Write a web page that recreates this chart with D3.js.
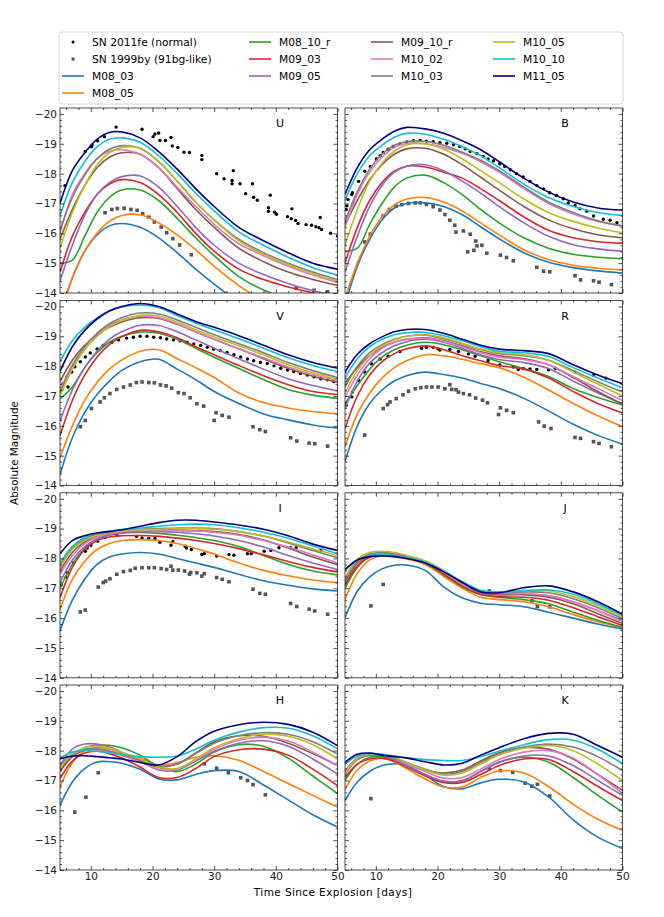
<!DOCTYPE html>
<html>
<head>
<meta charset="utf-8">
<script src="https://cdn.jsdelivr.net/npm/d3@7"></script>
<style>
body { margin: 0; background: #fff; }
text { font-family: "DejaVu Sans", sans-serif; }
</style>
</head>
<body>
<div id="chart"></div>
<script>
// model epochs (days since explosion)
const T = [5, 7, 9, 11, 13, 15, 18, 21, 24, 27, 30, 34, 38, 42, 46, 50];

const models = ["M08_03", "M08_05", "M08_10_r", "M09_03", "M09_05", "M09_10_r",
                "M10_02", "M10_03", "M10_05", "M10_10", "M11_05"];
const modelColors = ["#1f77b4", "#ff7f0e", "#2ca02c", "#d62728", "#9467bd", "#8c564b",
                     "#e377c2", "#7f7f7f", "#bcbd22", "#17becf", "#000080"];

const bands = ["U", "B", "V", "R", "I", "J", "H", "K"];

const xTicks = [10, 20, 30, 40, 50];
const yTicks = [-20, -19, -18, -17, -16, -15, -14];

// model light curves, one row per model (same order as models)
const modelU = [
  [-13.2, -14.5, -15.4, -15.95, -16.25, -16.33, -16.2, -15.85, -15.35, -14.8, -14.3, -13.7, -13.3, -13.0, -12.8, -12.6],
  [-13.3, -14.5, -15.4, -16.0, -16.4, -16.6, -16.62, -16.35, -15.95, -15.45, -14.9, -14.25, -13.75, -13.4, -13.1, -12.9],
  [-15.0, -15.1, -15.9, -16.7, -17.2, -17.45, -17.45, -17.1, -16.5, -15.85, -15.25, -14.55, -14.1, -13.8, -13.6, -13.4],
  [-14.7, -15.9, -16.7, -17.3, -17.65, -17.8, -17.7, -17.3, -16.7, -16.0, -15.4, -14.8, -14.45, -14.2, -14.0, -13.8],
  [-14.4, -15.6, -16.6, -17.3, -17.7, -17.9, -17.92, -17.55, -16.9, -16.2, -15.6, -15.0, -14.62, -14.32, -14.08, -13.88],
  [-15.8, -16.8, -17.6, -18.2, -18.55, -18.7, -18.65, -18.2, -17.5, -16.8, -16.2, -15.5, -15.05, -14.7, -14.45, -14.25],
  [-16.0, -17.3, -18.0, -18.5, -18.75, -18.8, -18.65, -18.2, -17.55, -16.9, -16.3, -15.65, -15.25, -14.9, -14.6, -14.35],
  [-16.1, -17.2, -17.95, -18.5, -18.82, -18.94, -18.85, -18.4, -17.75, -17.05, -16.45, -15.8, -15.35, -15.0, -14.7, -14.45],
  [-15.5, -16.7, -17.6, -18.3, -18.7, -18.88, -18.85, -18.42, -17.75, -17.05, -16.45, -15.75, -15.3, -14.95, -14.65, -14.4],
  [-16.6, -17.7, -18.4, -18.9, -19.15, -19.2, -19.05, -18.6, -18.0, -17.35, -16.75, -16.05, -15.6, -15.2, -14.85, -14.6],
  [-17.0, -18.1, -18.7, -19.15, -19.38, -19.4, -19.2, -18.74, -18.15, -17.5, -16.9, -16.2, -15.75, -15.35, -15.0, -14.8]
];
const modelB = [
  [-13.6, -14.9, -15.8, -16.45, -16.85, -17.0, -17.02, -16.9, -16.62, -16.22, -15.82, -15.35, -15.03, -14.85, -14.74, -14.67],
  [-13.8, -15.0, -15.9, -16.55, -16.95, -17.15, -17.2, -17.05, -16.75, -16.35, -15.95, -15.45, -15.12, -14.93, -14.83, -14.77],
  [-15.4, -15.5, -16.3, -17.0, -17.55, -17.85, -17.95, -17.7, -17.3, -16.8, -16.35, -15.85, -15.5, -15.3, -15.2, -15.15],
  [-15.0, -16.2, -17.1, -17.7, -18.08, -18.25, -18.22, -18.05, -17.85, -17.5, -17.1, -16.55, -16.1, -15.85, -15.72, -15.67],
  [-14.7, -15.9, -16.9, -17.6, -18.05, -18.25, -18.3, -18.1, -17.75, -17.35, -16.9, -16.35, -15.9, -15.62, -15.48, -15.4],
  [-16.3, -17.1, -17.8, -18.3, -18.65, -18.83, -18.85, -18.65, -18.3, -17.88, -17.45, -16.9, -16.45, -16.15, -15.95, -15.85],
  [-16.2, -17.3, -18.05, -18.55, -18.88, -19.02, -19.0, -18.88, -18.68, -18.4, -18.05, -17.5, -17.0, -16.65, -16.4, -16.25],
  [-16.4, -17.4, -18.15, -18.65, -18.95, -19.08, -19.08, -18.95, -18.72, -18.45, -18.1, -17.55, -17.05, -16.7, -16.42, -16.24],
  [-15.6, -16.8, -17.75, -18.35, -18.75, -18.97, -19.0, -18.82, -18.5, -18.1, -17.7, -17.15, -16.7, -16.4, -16.18, -16.02],
  [-17.1, -18.0, -18.6, -18.95, -19.22, -19.35, -19.32, -19.15, -18.9, -18.6, -18.2, -17.65, -17.2, -16.9, -16.7, -16.6],
  [-17.3, -18.2, -18.8, -19.15, -19.42, -19.55, -19.5, -19.35, -19.1, -18.8, -18.4, -17.85, -17.38, -17.05, -16.85, -16.78]
];
const modelV = [
  [-14.37, -15.6, -16.45, -17.05, -17.5, -17.85, -18.15, -18.23, -17.9, -17.55, -17.15, -16.75, -16.4, -16.2, -16.03, -15.93],
  [-14.93, -16.0, -16.85, -17.45, -17.9, -18.2, -18.5, -18.55, -18.25, -17.95, -17.62, -17.1, -16.78, -16.6, -16.48, -16.4],
  [-16.9, -17.3, -17.95, -18.45, -18.8, -19.0, -19.14, -19.1, -18.9, -18.6, -18.3, -17.92, -17.55, -17.22, -17.03, -16.92],
  [-15.67, -16.85, -17.7, -18.3, -18.72, -18.98, -19.2, -19.15, -18.95, -18.65, -18.38, -18.02, -17.68, -17.38, -17.15, -17.05],
  [-16.16, -17.2, -17.95, -18.5, -18.9, -19.15, -19.37, -19.36, -19.15, -18.88, -18.6, -18.25, -17.9, -17.58, -17.35, -17.17],
  [-17.49, -18.2, -18.7, -19.05, -19.3, -19.48, -19.62, -19.6, -19.4, -19.15, -18.9, -18.58, -18.25, -17.92, -17.66, -17.46],
  [-17.2, -18.05, -18.65, -19.08, -19.38, -19.55, -19.68, -19.62, -19.42, -19.15, -18.9, -18.58, -18.28, -17.97, -17.72, -17.52],
  [-17.1, -18.0, -18.65, -19.1, -19.42, -19.62, -19.78, -19.75, -19.55, -19.3, -19.05, -18.75, -18.45, -18.12, -17.85, -17.62],
  [-17.0, -17.9, -18.55, -19.0, -19.33, -19.53, -19.7, -19.68, -19.48, -19.22, -18.98, -18.68, -18.38, -18.05, -17.78, -17.57],
  [-18.16, -18.85, -19.3, -19.62, -19.85, -19.98, -20.05, -19.97, -19.7, -19.45, -19.22, -18.92, -18.6, -18.28, -18.02, -17.82],
  [-17.82, -18.65, -19.2, -19.58, -19.85, -20.0, -20.1, -20.0, -19.75, -19.5, -19.3, -19.02, -18.7, -18.38, -18.12, -17.93]
];
const modelR = [
  [-14.8, -16.0, -16.75, -17.2, -17.5, -17.68, -17.8, -17.72, -17.6, -17.42, -17.25, -16.92, -16.5, -16.05, -15.68, -15.39],
  [-15.3, -16.4, -17.1, -17.6, -17.95, -18.18, -18.38, -18.35, -18.23, -18.08, -17.95, -17.63, -17.2, -16.75, -16.34, -15.97],
  [-16.74, -17.35, -17.9, -18.3, -18.55, -18.7, -18.8, -18.72, -18.55, -18.35, -18.15, -17.92, -17.65, -17.25, -16.95, -16.7],
  [-15.91, -17.0, -17.7, -18.15, -18.42, -18.58, -18.68, -18.55, -18.35, -18.18, -18.02, -17.9, -17.6, -17.15, -16.75, -16.43],
  [-16.58, -17.5, -18.1, -18.45, -18.68, -18.82, -18.9, -18.8, -18.6, -18.38, -18.22, -18.12, -17.92, -17.5, -17.1, -16.74],
  [-17.43, -17.95, -18.35, -18.62, -18.8, -18.9, -18.95, -18.85, -18.68, -18.48, -18.35, -18.25, -18.05, -17.62, -17.15, -16.72],
  [-16.95, -17.7, -18.25, -18.6, -18.8, -18.9, -18.93, -18.83, -18.65, -18.45, -18.3, -18.22, -18.05, -17.65, -17.25, -16.85],
  [-17.3, -18.0, -18.45, -18.72, -18.9, -19.0, -19.04, -18.92, -18.75, -18.55, -18.42, -18.35, -18.2, -17.85, -17.48, -17.13],
  [-17.1, -17.85, -18.35, -18.68, -18.88, -19.0, -19.05, -18.95, -18.77, -18.57, -18.45, -18.38, -18.2, -17.8, -17.4, -17.0],
  [-17.6, -18.25, -18.65, -18.9, -19.05, -19.12, -19.13, -19.02, -18.85, -18.65, -18.5, -18.45, -18.32, -17.95, -17.6, -17.27],
  [-17.8, -18.4, -18.75, -18.98, -19.15, -19.23, -19.23, -19.1, -18.9, -18.7, -18.57, -18.52, -18.42, -18.05, -17.7, -17.41]
];
const modelI = [
  [-15.58, -16.6, -17.3, -17.8, -18.05, -18.15, -18.2, -18.15, -18.0, -17.85, -17.7, -17.47, -17.25, -17.1, -16.98, -16.91],
  [-16.3, -17.3, -17.9, -18.3, -18.5, -18.6, -18.63, -18.6, -18.5, -18.33, -18.15, -17.85, -17.6, -17.42, -17.28, -17.19],
  [-17.0, -17.8, -18.35, -18.65, -18.8, -18.86, -18.87, -18.84, -18.78, -18.7, -18.6, -18.4, -18.1, -17.8, -17.58, -17.45],
  [-16.69, -17.7, -18.3, -18.6, -18.72, -18.76, -18.77, -18.74, -18.68, -18.6, -18.5, -18.33, -18.12, -17.9, -17.7, -17.55],
  [-17.19, -17.95, -18.4, -18.65, -18.78, -18.85, -18.9, -18.9, -18.88, -18.83, -18.75, -18.6, -18.38, -18.1, -17.85, -17.63],
  [-17.58, -18.2, -18.55, -18.75, -18.85, -18.9, -18.93, -18.95, -18.95, -18.93, -18.9, -18.8, -18.62, -18.35, -18.05, -17.8],
  [-17.47, -18.1, -18.5, -18.72, -18.83, -18.9, -18.93, -18.93, -18.93, -18.92, -18.88, -18.78, -18.6, -18.38, -18.12, -17.85],
  [-17.75, -18.35, -18.65, -18.82, -18.9, -18.95, -18.98, -19.0, -19.02, -19.02, -19.0, -18.9, -18.75, -18.52, -18.27, -18.02],
  [-17.7, -18.3, -18.6, -18.78, -18.88, -18.92, -18.96, -18.98, -19.0, -19.0, -18.98, -18.9, -18.75, -18.55, -18.32, -18.1],
  [-17.85, -18.4, -18.7, -18.85, -18.92, -18.97, -19.02, -19.08, -19.13, -19.15, -19.13, -19.03, -18.88, -18.68, -18.42, -18.16],
  [-18.16, -18.6, -18.76, -18.85, -18.9, -18.96, -19.08, -19.2, -19.28, -19.28, -19.22, -19.12, -18.98, -18.76, -18.48, -18.27]
];
const modelJ = [
  [-16.02, -16.9, -17.38, -17.65, -17.77, -17.78, -17.6, -17.05, -16.68, -16.5, -16.45, -16.38, -16.2, -16.0, -15.8, -15.63],
  [-16.63, -17.5, -17.95, -18.08, -18.06, -17.98, -17.8, -17.4, -17.0, -16.7, -16.62, -16.55, -16.38, -16.12, -15.88, -15.68],
  [-17.0, -17.7, -18.05, -18.15, -18.12, -18.05, -17.85, -17.45, -17.05, -16.78, -16.7, -16.62, -16.48, -16.2, -15.93, -15.69],
  [-17.1, -17.75, -18.05, -18.12, -18.1, -18.02, -17.85, -17.48, -17.08, -16.8, -16.72, -16.7, -16.6, -16.35, -16.05, -15.75],
  [-17.2, -17.85, -18.12, -18.18, -18.15, -18.08, -17.9, -17.55, -17.15, -16.85, -16.78, -16.8, -16.75, -16.55, -16.25, -15.92],
  [-17.24, -17.85, -18.1, -18.15, -18.12, -18.05, -17.9, -17.55, -17.15, -16.85, -16.8, -16.78, -16.7, -16.48, -16.15, -15.82],
  [-17.3, -17.9, -18.12, -18.17, -18.14, -18.07, -17.9, -17.55, -17.15, -16.87, -16.82, -16.82, -16.76, -16.55, -16.25, -15.88],
  [-17.3, -17.92, -18.15, -18.2, -18.16, -18.08, -17.9, -17.57, -17.18, -16.9, -16.85, -16.88, -16.85, -16.65, -16.35, -15.98],
  [-17.35, -17.98, -18.2, -18.24, -18.2, -18.1, -17.92, -17.6, -17.2, -16.92, -16.88, -16.92, -16.92, -16.72, -16.42, -16.03],
  [-17.58, -17.95, -18.1, -18.14, -18.1, -18.03, -17.88, -17.58, -17.22, -16.93, -16.88, -16.92, -16.95, -16.8, -16.48, -16.08],
  [-17.63, -17.95, -18.06, -18.08, -18.06, -18.0, -17.85, -17.55, -17.2, -16.88, -16.85, -17.02, -17.08, -16.88, -16.55, -16.13]
];
const modelH = [
  [-16.17, -16.95, -17.4, -17.62, -17.63, -17.58, -17.38, -17.05, -17.02, -17.2, -17.33, -17.3, -16.85, -16.35, -15.85, -15.44],
  [-16.78, -17.6, -18.0, -18.11, -18.05, -17.92, -17.75, -17.52, -17.6, -17.78, -17.83, -17.68, -17.3, -16.9, -16.5, -16.11],
  [-17.3, -17.85, -18.1, -18.18, -18.18, -18.1, -17.85, -17.45, -17.3, -17.55, -17.95, -18.2, -18.15, -17.75, -17.15, -16.56],
  [-17.06, -17.65, -17.92, -17.98, -17.9, -17.75, -17.45, -17.1, -17.1, -17.4, -17.8, -18.03, -18.05, -17.85, -17.38, -16.83],
  [-17.5, -18.05, -18.22, -18.22, -18.12, -17.95, -17.68, -17.35, -17.35, -17.65, -17.98, -18.25, -18.33, -18.15, -17.72, -17.22],
  [-17.3, -17.8, -18.02, -18.05, -17.98, -17.85, -17.65, -17.45, -17.55, -17.92, -18.3, -18.5, -18.48, -18.25, -17.9, -17.5],
  [-17.45, -17.85, -18.05, -18.05, -17.97, -17.85, -17.62, -17.38, -17.38, -17.7, -18.05, -18.35, -18.45, -18.32, -17.95, -17.5],
  [-17.5, -17.9, -18.05, -18.05, -17.98, -17.88, -17.7, -17.48, -17.55, -17.9, -18.25, -18.5, -18.6, -18.55, -18.3, -17.89],
  [-17.4, -17.9, -18.1, -18.15, -18.08, -17.95, -17.72, -17.45, -17.4, -17.72, -18.1, -18.4, -18.55, -18.48, -18.2, -17.72],
  [-17.75, -17.95, -18.0, -17.98, -17.93, -17.87, -17.8, -17.78, -17.82, -18.05, -18.35, -18.62, -18.77, -18.75, -18.5, -18.06],
  [-17.72, -17.82, -17.83, -17.8, -17.76, -17.72, -17.6, -17.52, -17.8, -18.3, -18.65, -18.87, -18.95, -18.88, -18.62, -18.17]
];
const modelK = [
  [-16.33, -16.95, -17.3, -17.5, -17.56, -17.5, -17.18, -16.8, -16.72, -16.92, -17.04, -16.95, -16.45, -15.68, -15.1, -14.72],
  [-16.7, -17.35, -17.65, -17.75, -17.62, -17.4, -17.05, -16.78, -16.78, -17.1, -17.32, -17.25, -16.8, -16.2, -15.7, -15.33],
  [-17.0, -17.55, -17.78, -17.8, -17.7, -17.5, -17.2, -16.95, -16.98, -17.3, -17.62, -17.78, -17.62, -17.1, -16.5, -15.94],
  [-17.1, -17.55, -17.72, -17.75, -17.65, -17.45, -17.15, -16.93, -16.93, -17.2, -17.5, -17.72, -17.7, -17.3, -16.8, -16.33],
  [-17.3, -17.75, -17.88, -17.85, -17.7, -17.48, -17.2, -16.98, -17.0, -17.3, -17.6, -17.82, -17.82, -17.5, -17.0, -16.5],
  [-17.2, -17.7, -17.85, -17.85, -17.75, -17.58, -17.35, -17.25, -17.35, -17.65, -17.93, -18.1, -18.05, -17.72, -17.2, -16.67],
  [-17.2, -17.72, -17.88, -17.87, -17.75, -17.55, -17.3, -17.08, -17.1, -17.38, -17.7, -17.95, -18.0, -17.75, -17.2, -16.56],
  [-17.3, -17.75, -17.87, -17.85, -17.75, -17.6, -17.38, -17.22, -17.3, -17.6, -17.9, -18.12, -18.22, -18.12, -17.8, -17.33],
  [-17.25, -17.75, -17.88, -17.87, -17.77, -17.6, -17.35, -17.18, -17.25, -17.55, -17.85, -18.08, -18.17, -18.0, -17.55, -17.0],
  [-17.55, -17.82, -17.9, -17.88, -17.82, -17.76, -17.7, -17.67, -17.67, -17.8, -17.98, -18.2, -18.37, -18.35, -18.05, -17.56],
  [-17.61, -17.88, -17.92, -17.85, -17.8, -17.75, -17.63, -17.52, -17.58, -17.85, -18.1, -18.4, -18.58, -18.55, -18.17, -17.78]
];

// SN 2011fe photometry [day, mag]
const fe11U = [[5.8,-17.6],[9.1,-18.74],[10.1,-18.9],[10.2,-18.96],[11.1,-19.1],[12.2,-19.24],[14.1,-19.56],[18.3,-19.49],[20.1,-19.24],[20.4,-19.33],[21.0,-19.36],[21.2,-19.11],[22.1,-19.11],[23.0,-19.21],[23.2,-18.93],[24.1,-18.88],[25.1,-18.72],[26.0,-18.71],[28.0,-18.61],[28.0,-18.47],[30.4,-18.0],[31.6,-17.83],[33.1,-18.1],[32.9,-17.77],[32.9,-17.66],[34.2,-17.66],[35.1,-17.33],[36.2,-17.66],[36.4,-17.21],[37.0,-17.11],[39.1,-17.28],[38.8,-16.86],[38.8,-16.74],[39.8,-16.71],[40.1,-16.64],[42.6,-16.82],[41.9,-16.56],[42.5,-16.49],[43.2,-16.43],[43.6,-16.33],[44.9,-16.29],[45.8,-16.27],[46.5,-16.22],[47.2,-16.53],[47.0,-16.19],[47.4,-16.13],[48.9,-16.0],[50.0,-15.91]];
const fe11B = [[5.2,-16.8],[5.3,-16.92],[5.5,-17.13],[6.1,-17.3],[6.2,-17.36],[7.2,-17.74],[8.2,-18.08],[9.1,-18.24],[10.1,-18.49],[10.7,-18.6],[11.2,-18.71],[12.0,-18.82],[12.8,-18.91],[13.9,-19.0],[15.0,-19.06],[16.1,-19.1],[17.2,-19.11],[18.2,-19.09],[19.3,-19.07],[20.4,-19.04],[21.5,-19.02],[22.6,-18.97],[23.6,-18.91],[24.5,-18.83],[25.3,-18.74],[26.4,-18.67],[27.4,-18.58],[28.2,-18.49],[29.1,-18.43],[30.1,-18.33],[30.9,-18.24],[31.8,-18.13],[32.8,-18.0],[33.9,-17.89],[35.0,-17.74],[36.1,-17.6],[37.2,-17.49],[38.2,-17.36],[39.3,-17.27],[40.4,-17.16],[41.2,-17.02],[42.3,-16.93],[43.1,-16.82],[44.2,-16.74],[45.3,-16.58],[46.9,-16.47],[48.0,-16.44],[49.1,-16.36]];
const fe11V = [[5.3,-17.2],[5.5,-17.42],[6.1,-17.64],[6.3,-17.3],[6.9,-17.8],[7.4,-17.98],[8.3,-18.15],[9.1,-18.31],[9.9,-18.44],[11.0,-18.58],[12.0,-18.69],[13.4,-18.8],[14.5,-18.88],[15.8,-18.94],[16.9,-18.97],[18.0,-19.0],[19.1,-19.0],[20.2,-18.97],[21.3,-18.95],[22.3,-18.91],[23.4,-18.88],[24.5,-18.85],[25.6,-18.8],[26.7,-18.74],[27.8,-18.69],[28.9,-18.63],[29.9,-18.57],[31.0,-18.52],[32.1,-18.46],[33.2,-18.38],[34.3,-18.31],[35.4,-18.24],[36.4,-18.18],[37.5,-18.12],[38.6,-18.09],[39.7,-18.01],[40.8,-17.93],[41.9,-17.87],[42.9,-17.82],[44.0,-17.75],[45.1,-17.7],[46.2,-17.64],[47.3,-17.58],[48.4,-17.54],[49.4,-17.48]];
const fe11R = [[5.2,-16.69],[6.1,-16.97],[6.2,-17.13],[7.2,-17.52],[8.2,-17.8],[9.3,-18.08],[10.7,-18.24],[12.0,-18.33],[13.9,-18.49],[17.4,-18.6],[18.2,-18.63],[19.3,-18.63],[20.1,-18.58],[20.4,-18.54],[22.0,-18.56],[23.4,-18.49],[25.0,-18.41],[26.1,-18.33],[28.2,-18.19],[30.1,-18.04],[32.3,-17.97],[33.1,-17.89],[33.9,-17.92],[35.0,-17.91],[36.1,-17.89],[38.0,-17.88],[39.1,-17.93],[42.3,-17.8],[45.3,-17.69],[47.3,-17.6]];
const fe11I = [[5.2,-17.11],[6.0,-17.38],[6.2,-17.52],[7.2,-17.86],[9.1,-18.24],[9.4,-18.35],[10.0,-18.44],[11.1,-18.58],[12.3,-18.71],[14.2,-18.8],[17.4,-18.74],[18.3,-18.69],[19.4,-18.67],[20.4,-18.67],[21.2,-18.54],[23.0,-18.44],[23.3,-18.56],[25.3,-18.41],[25.5,-18.35],[26.3,-18.3],[28.0,-18.13],[28.4,-18.16],[30.4,-18.08],[32.4,-18.13],[33.2,-18.11],[35.4,-18.16],[36.0,-18.16],[38.1,-18.24],[39.2,-18.27],[40.5,-18.36],[42.4,-18.36],[43.3,-18.36],[47.3,-18.27]];
const fe11J = [];
const fe11H = [];
const fe11K = [];

// SN 1999by photometry [day, mag]
const by99U = [[12.3,-16.69],[13.4,-16.8],[14.3,-16.83],[15.4,-16.84],[16.5,-16.8],[17.5,-16.77],[18.4,-16.66],[19.4,-16.54],[20.3,-16.38],[21.4,-16.21],[22.3,-16.02],[23.3,-15.82],[24.4,-15.61],[26.3,-15.28],[43.3,-14.16],[46.2,-14.09],[48.4,-14.04]];
const by99B = [[8.2,-15.71],[9.1,-15.97],[11.2,-16.58],[12.2,-16.8],[13.3,-16.91],[14.2,-16.96],[15.3,-17.0],[16.4,-17.02],[17.2,-17.02],[18.2,-16.97],[19.3,-16.89],[20.4,-16.78],[21.2,-16.63],[22.0,-16.44],[22.8,-16.27],[23.0,-16.04],[24.2,-16.08],[24.9,-15.38],[25.3,-15.97],[25.9,-15.43],[26.2,-15.74],[26.4,-15.58],[27.2,-15.6],[28.0,-15.33],[30.2,-15.27],[31.2,-15.19],[32.3,-15.08],[36.1,-14.86],[37.2,-14.73],[38.2,-14.71],[42.3,-14.58],[43.2,-14.44],[45.3,-14.41],[46.2,-14.36],[48.2,-14.28]];
const by99V = [[8.3,-15.97],[9.1,-16.18],[10.1,-16.58],[11.5,-16.8],[12.2,-16.94],[13.1,-17.08],[14.2,-17.22],[15.3,-17.3],[16.4,-17.37],[17.4,-17.45],[18.3,-17.47],[19.4,-17.45],[20.3,-17.44],[21.3,-17.37],[22.2,-17.34],[23.1,-17.26],[24.2,-17.11],[25.1,-17.08],[26.1,-16.94],[27.2,-16.74],[28.3,-16.66],[30.0,-16.18],[30.3,-16.44],[31.3,-16.35],[32.4,-16.29],[36.3,-15.97],[37.4,-15.87],[38.3,-15.81],[42.4,-15.6],[43.4,-15.49],[45.4,-15.42],[46.3,-15.4],[48.4,-15.32]];
const by99R = [[8.2,-15.69],[11.2,-16.58],[11.9,-16.71],[12.3,-16.8],[13.3,-16.91],[14.4,-17.04],[15.3,-17.16],[16.4,-17.24],[17.3,-17.28],[18.2,-17.3],[19.1,-17.3],[20.1,-17.3],[21.2,-17.24],[22.0,-17.38],[22.3,-17.22],[23.0,-17.21],[23.4,-17.13],[24.2,-17.08],[25.2,-17.04],[26.2,-16.93],[27.3,-16.86],[28.1,-16.77],[29.9,-16.38],[30.2,-16.6],[31.2,-16.52],[32.3,-16.44],[36.4,-16.13],[37.3,-15.99],[38.4,-15.91],[42.3,-15.61],[43.2,-15.58],[45.3,-15.47],[46.2,-15.41],[48.2,-15.3]];
const by99I = [[8.3,-16.21],[9.1,-16.27],[11.2,-17.04],[12.0,-17.19],[12.4,-17.24],[13.1,-17.32],[14.2,-17.47],[15.3,-17.56],[16.4,-17.6],[17.2,-17.67],[18.3,-17.69],[19.4,-17.69],[20.3,-17.69],[21.4,-17.66],[22.3,-17.63],[23.0,-17.74],[23.3,-17.61],[24.2,-17.61],[25.2,-17.58],[26.0,-17.47],[26.2,-17.53],[27.2,-17.52],[28.0,-17.41],[28.4,-17.49],[30.4,-17.36],[31.3,-17.3],[32.4,-17.22],[36.3,-16.97],[37.4,-16.83],[38.3,-16.8],[42.4,-16.49],[43.4,-16.39],[45.4,-16.3],[46.3,-16.24],[48.4,-16.13]];
const by99J = [[9.2,-16.41],[11.2,-17.13],[28.4,-16.91],[30.2,-16.82],[35.3,-16.58],[36.2,-16.39],[38.2,-16.38]];
const by99H = [[7.4,-15.94],[9.2,-16.44],[11.2,-17.26],[28.4,-17.56],[30.4,-17.41],[32.3,-17.26],[34.3,-17.09],[35.4,-17.0],[36.3,-16.86],[38.3,-16.52]];
const by99K = [[9.2,-16.39],[28.4,-17.39],[30.2,-17.33],[32.2,-17.27],[34.2,-16.91],[35.3,-16.81],[36.2,-16.87],[38.2,-16.48]];

const bandTable = [
  { name: "U", models: modelU, fe: fe11U, by: by99U },
  { name: "B", models: modelB, fe: fe11B, by: by99B },
  { name: "V", models: modelV, fe: fe11V, by: by99V },
  { name: "R", models: modelR, fe: fe11R, by: by99R },
  { name: "I", models: modelI, fe: fe11I, by: by99I },
  { name: "J", models: modelJ, fe: fe11J, by: by99J },
  { name: "H", models: modelH, fe: fe11H, by: by99H },
  { name: "K", models: modelK, fe: fe11K, by: by99K }
];

// layout
const panelW = 277.5, panelH = 185;
const colX = [60, 345];
const rowY = [108, 300.5, 492.8, 685];

const svg = d3.select("#chart").append("svg")
    .attr("width", 664)
    .attr("height", 917);

const x = d3.scaleLinear().domain([5, 50]).range([0, panelW]);
const y = d3.scaleLinear().domain([-20.2, -14]).range([0, panelH]);

svg.append("defs").append("clipPath").attr("id", "panel-clip")
  .append("rect").attr("width", panelW).attr("height", panelH);

const xMinor = d3.range(6, 50, 2).filter(d => d % 10 !== 0);
const yMinor = d3.range(-19.8, -14, 0.2).map(d => +d.toFixed(1)).filter(d => !Number.isInteger(d));

const line = d3.line()
    .x((d, i) => x(T[i]))
    .y(d => y(d))
    .curve(d3.curveCatmullRom);

function styleAxis(g) {
  g.select(".domain").remove();
  g.selectAll(".tick line").attr("stroke", "#222").attr("stroke-width", 0.8);
  g.selectAll(".tick text").attr("font-size", 10.5).attr("fill", "#222")
    .attr("font-family", "DejaVu Sans, sans-serif");
}

bandTable.forEach((band, i) => {
  const col = i % 2, row = Math.floor(i / 2);
  const g = svg.append("g").attr("transform", `translate(${colX[col]},${rowY[row]})`);

  const plot = g.append("g").attr("clip-path", "url(#panel-clip)");

  // observations
  plot.selectAll("circle.fe").data(band.fe).enter().append("circle")
      .attr("class", "fe")
      .attr("cx", d => x(d[0]))
      .attr("cy", d => y(d[1]))
      .attr("r", 1.7)
      .attr("fill", "black");

  plot.selectAll("rect.by").data(band.by).enter().append("rect")
      .attr("class", "by")
      .attr("x", d => x(d[0]) - 1.8)
      .attr("y", d => y(d[1]) - 1.8)
      .attr("width", 3.6)
      .attr("height", 3.6)
      .attr("fill", "#555");

  // models
  plot.selectAll("path.model").data(band.models).enter().append("path")
      .attr("class", "model")
      .attr("d", line)
      .attr("fill", "none")
      .attr("stroke", (d, j) => modelColors[j])
      .attr("stroke-width", 1.6);

  // ticks on all four sides, pointing in
  const bottom = g.append("g").attr("transform", `translate(0,${panelH})`)
      .call(d3.axisBottom(x).tickValues(xTicks).tickSize(-4).tickPadding(3)
            .tickFormat(row === 3 ? d3.format("d") : ""));
  styleAxis(bottom);
  styleAxis(g.append("g").attr("transform", `translate(0,${panelH})`)
      .call(d3.axisBottom(x).tickValues(xMinor).tickSize(-2).tickFormat("")));
  styleAxis(g.append("g").call(d3.axisTop(x).tickValues(xTicks).tickSize(-4).tickFormat("")));
  styleAxis(g.append("g").call(d3.axisTop(x).tickValues(xMinor).tickSize(-2).tickFormat("")));

  const left = g.append("g")
      .call(d3.axisLeft(y).tickValues(yTicks).tickSize(-4).tickPadding(3)
            .tickFormat(col === 0 ? d3.format("d") : ""));
  styleAxis(left);
  styleAxis(g.append("g").call(d3.axisLeft(y).tickValues(yMinor).tickSize(-2).tickFormat("")));
  styleAxis(g.append("g").attr("transform", `translate(${panelW},0)`)
      .call(d3.axisRight(y).tickValues(yTicks).tickSize(-4).tickFormat("")));
  styleAxis(g.append("g").attr("transform", `translate(${panelW},0)`)
      .call(d3.axisRight(y).tickValues(yMinor).tickSize(-2).tickFormat("")));

  g.append("rect")
      .attr("width", panelW).attr("height", panelH)
      .attr("fill", "none").attr("stroke", "#222").attr("stroke-width", 0.8);

  g.append("text")
      .attr("x", 220).attr("y", 19)
      .attr("text-anchor", "middle")
      .attr("font-size", 11)
      .text(band.name);
});

// axis titles
svg.append("text")
    .attr("x", 333).attr("y", 896)
    .attr("text-anchor", "middle")
    .attr("font-size", 10.5)
    .attr("letter-spacing", 0.4)
    .text("Time Since Explosion [days]");

svg.append("text")
    .attr("transform", "translate(18,453) rotate(-90)")
    .attr("text-anchor", "middle")
    .attr("font-size", 10.4)
    .text("Absolute Magnitude");

// legend
const legend = svg.append("g");
legend.append("rect")
    .attr("x", 59).attr("y", 32).attr("width", 564).attr("height", 72)
    .attr("rx", 3)
    .attr("fill", "white").attr("stroke", "#d6d6d6");

const legendCols = [62, 249, 371, 493];
const legendRows = [42, 59, 76, 93];
const legendItems = [
  { label: "SN 2011fe (normal)", kind: "fe" },
  { label: "SN 1999by (91bg-like)", kind: "by" }
].concat(models.map((m, j) => ({ label: m, kind: "line", color: modelColors[j] })));
const perCol = [4, 3, 3, 3];

let k = 0;
perCol.forEach((n, c) => {
  for (let r = 0; r < n; r++, k++) {
    const item = legendItems[k];
    const lx = legendCols[c], ly = legendRows[r];
    if (item.kind === "line") {
      legend.append("line")
          .attr("x1", lx).attr("x2", lx + 22)
          .attr("y1", ly).attr("y2", ly)
          .attr("stroke", item.color).attr("stroke-width", 1.6);
    } else if (item.kind === "fe") {
      legend.append("circle").attr("cx", lx + 11).attr("cy", ly).attr("r", 1.5).attr("fill", "black");
    } else {
      legend.append("rect").attr("x", lx + 9.5).attr("y", ly - 1.5)
          .attr("width", 3).attr("height", 3).attr("fill", "#555");
    }
    legend.append("text")
        .attr("x", lx + 30).attr("y", ly)
        .attr("dy", "0.35em")
        .attr("font-size", 10.7)
        .text(item.label);
  }
});
</script>
</body>
</html>
